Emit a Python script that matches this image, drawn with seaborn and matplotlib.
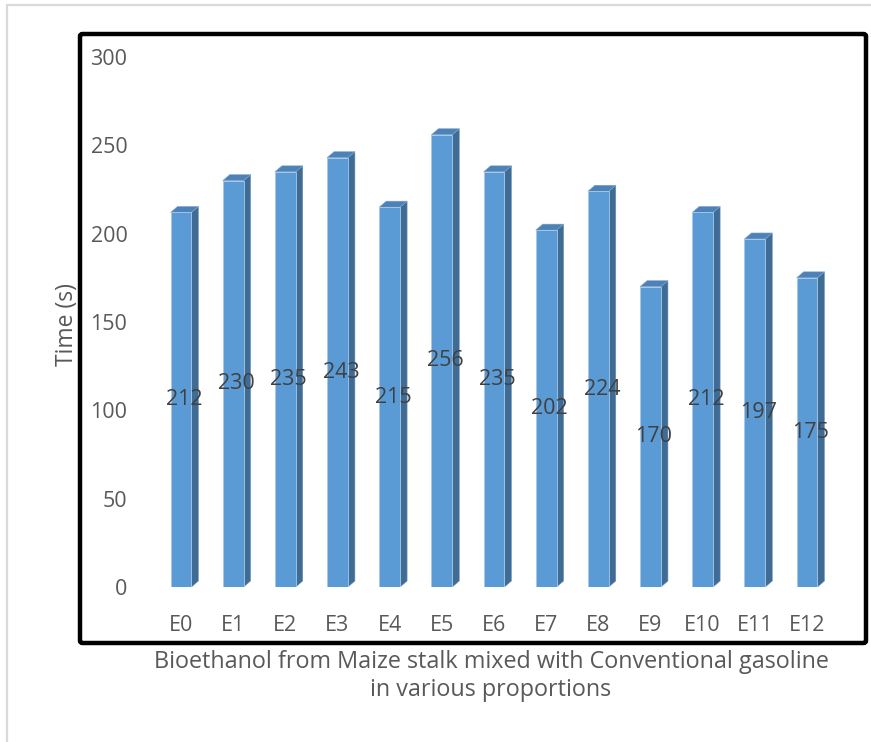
import matplotlib
matplotlib.use("Agg")
import matplotlib.pyplot as plt
from matplotlib.patches import Polygon, FancyBboxPatch
from matplotlib.lines import Line2D
import seaborn as sns
import pandas as pd

# Blend labels and measured time values
blends = ["E0", "E1", "E2", "E3", "E4", "E5", "E6", "E7", "E8", "E9", "E10", "E11", "E12"]
times = [212, 230, 235, 243, 215, 256, 235, 202, 224, 170, 212, 197, 175]
y_ticks = [0, 50, 100, 150, 200, 250, 300]

sns.set_theme(style="white")
plt.rcParams["font.family"] = ["Open Sans", "DejaVu Sans"]

W, H = 871, 742
fig = plt.figure(figsize=(W / 100, H / 100), dpi=100)
fig.patch.set_facecolor("white")


def fx(px):
    return px / W


def fy(py):
    return 1 - py / H


# plot region in pixels
ax_l, ax_r, ax_t, ax_b = 128.8, 859.2, 57, 587
ax = fig.add_axes([fx(ax_l), fy(ax_b), fx(ax_r) - fx(ax_l), fy(ax_t) - fy(ax_b)])

df = pd.DataFrame({"blend": blends, "time": times})
front = "#5B9BD5"
side = "#3F6C95"
top = "#4C82B8"
half = 0.2
dx, dy = 0.134, 3.4

sns.barplot(data=df, x="blend", y="time", color=front, width=2 * half,
            saturation=1, edgecolor="#A9C8E8", linewidth=0.6, ax=ax, zorder=3)

for i, v in enumerate(times):
    ax.add_patch(Polygon([(i + half, 0), (i + half + dx, dy), (i + half + dx, v + dy), (i + half, v)],
                         closed=True, facecolor=side, edgecolor="#6F93B5", linewidth=0.4, zorder=2))
    ax.add_patch(Polygon([(i - half, v), (i + half, v), (i + half + dx, v + dy), (i - half + dx, v + dy)],
                         closed=True, facecolor=top, edgecolor="#7FA6CC", linewidth=0.4, zorder=2))
    ax.text(i + dx / 2, v / 2, f"{v}", ha="center", va="center", fontsize=15.5,
            color="#404040", zorder=5)

ax.set_xlim(-1.0, 13.0)
ax.set_ylim(0, 300)
ax.set_yticks(y_ticks)
ax.set_yticklabels([str(t) for t in y_ticks])
ax.tick_params(axis="both", length=0, labelsize=15.5, labelcolor="#595959")
ax.tick_params(axis="y", pad=1)
ax.tick_params(axis="x", pad=20)
ax.set_xlabel("")
ax.set_ylabel("")
for s in ax.spines.values():
    s.set_visible(False)
ax.set_facecolor("none")

# axis titles
fig.text(fx(67), fy(325), "Time (s)", rotation=90, ha="center", va="center",
         fontsize=16.5, color="#595959")
fig.text(fx(491), fy(676), "Bioethanol from Maize stalk mixed with Conventional gasoline\nin various proportions",
         ha="center", va="center", multialignment="center", fontsize=16.8, color="#595959",
         linespacing=1.2)

# black frame around the chart body
fig.patches.append(FancyBboxPatch((fx(80), fy(643)), fx(866) - fx(80), fy(34) - fy(643),
                                  boxstyle="round,pad=0,rounding_size=0.003",
                                  transform=fig.transFigure, fill=False,
                                  edgecolor="black", linewidth=3.2, zorder=10))

# light outer border
fig.lines.append(Line2D([fx(7), fx(7), fx(871)], [fy(742), fy(5), fy(5)],
                        transform=fig.transFigure, color="#D9D9D9", linewidth=1.6))

fig.savefig("out.png", dpi=100, facecolor="white")
